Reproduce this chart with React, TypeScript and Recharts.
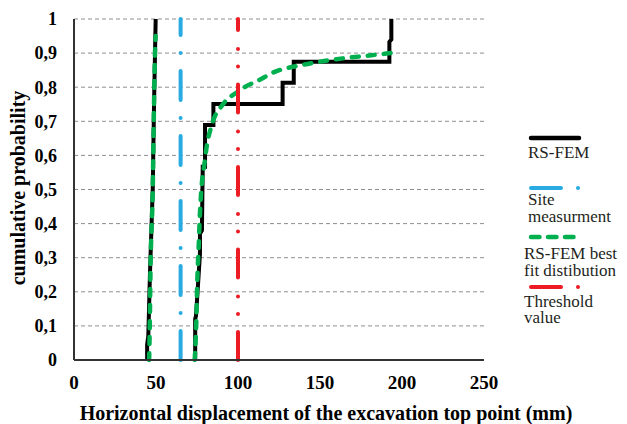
import React from "react";
import { LineChart, Line, XAxis, YAxis, CartesianGrid } from "recharts";

// RS-FEM results (empirical CDF), two groups
const rsFemA = [
  { x: 44.6, y: 0 }, { x: 44.6, y: 0.045 }, { x: 45.3, y: 0.07 }, { x: 46.3, y: 0.25 },
  { x: 48.0, y: 0.5 }, { x: 48.8, y: 0.75 }, { x: 49.8, y: 1 },
];
const rsFemB = [
  { x: 73.9, y: 0 }, { x: 73.9, y: 0.12 }, { x: 74.4, y: 0.13 }, { x: 76.8, y: 0.31 },
  { x: 76.8, y: 0.37 }, { x: 78.0, y: 0.38 }, { x: 78.5, y: 0.567 }, { x: 79.9, y: 0.567 },
  { x: 79.9, y: 0.689 }, { x: 85, y: 0.689 }, { x: 85, y: 0.751 }, { x: 127.2, y: 0.751 },
  { x: 127.2, y: 0.813 }, { x: 134, y: 0.813 }, { x: 134, y: 0.875 }, { x: 192.3, y: 0.875 },
  { x: 192.3, y: 0.933 }, { x: 193.5, y: 0.94 }, { x: 193.5, y: 1 },
];
// RS-FEM best fit distributions
const fitA = [
  { x: 45.8, y: 0 }, { x: 46.2, y: 0.1 }, { x: 46.6, y: 0.25 }, { x: 48.0, y: 0.5 },
  { x: 48.8, y: 0.75 }, { x: 49.4, y: 0.9 }, { x: 49.8, y: 0.95 },
];
const fitB = [
  { x: 73.6, y: 0 }, { x: 74.5, y: 0.1 }, { x: 75.2, y: 0.235 }, { x: 76.0, y: 0.33 },
  { x: 76.8, y: 0.43 }, { x: 78.0, y: 0.52 }, { x: 79.3, y: 0.567 }, { x: 80.9, y: 0.626 },
  { x: 84, y: 0.689 }, { x: 91, y: 0.751 }, { x: 100, y: 0.787 }, { x: 104, y: 0.8 },
  { x: 113, y: 0.821 }, { x: 121, y: 0.842 }, { x: 140, y: 0.866 }, { x: 160, y: 0.882 },
  { x: 180, y: 0.893 }, { x: 193, y: 0.9 },
];
// Vertical reference series
const siteMeasurement = [{ x: 65, y: 0 }, { x: 65, y: 1 }];
const thresholdValue = [{ x: 100, y: 0 }, { x: 100, y: 1 }];

const xTicks = [0, 50, 100, 150, 200, 250];
const yTicks = [0, 0.1, 0.2, 0.3, 0.4, 0.5, 0.6, 0.7, 0.8, 0.9, 1];
const yTickLabels = ["0", "0,1", "0,2", "0,3", "0,4", "0,5", "0,6", "0,7", "0,8", "0,9", "1"];

const legendLabels = {
  rsfem: ["RS-FEM"],
  site: ["Site", "measurment"],
  fit: ["RS-FEM best", "fit distibution"],
  threshold: ["Threshold", "value"],
};

const xTitle = "Horizontal displacement of the excavation top point (mm)";
const yTitle = "cumulative probability";

const SERIF = "Liberation Serif";
const BLACK = "#000000";
const BLUE = "#29ABE2";
const GREEN = "#00B04F";
const RED = "#ED1C24";

const XTick = (props: any) => {
  const { x, y, payload } = props;
  return (
    <text x={x} y={y} dy="0.71em" textAnchor="middle" fontFamily={SERIF} fontWeight="bold" fontSize={19} fill="#000" style={{ fontFamily: SERIF }}>
      {String(payload.value)}
    </text>
  );
};

const YTick = (props: any) => {
  const { x, y, payload, index } = props;
  const i = yTicks.indexOf(payload.value);
  return (
    <text x={x} y={y} dy="0.355em" textAnchor="end" fontFamily={SERIF} fontWeight="bold" fontSize={18} fill="#000" style={{ fontFamily: SERIF }}>
      {yTickLabels[i >= 0 ? i : index]}
    </text>
  );
};

export default function App() {
  const legText = { fontFamily: SERIF, fontSize: 17, fill: "#231f20", style: { fontFamily: SERIF } };
  return (
    <div style={{ position: "fixed", left: 0, top: 0, width: 627, height: 424, background: "#fff", fontFamily: SERIF }}>
      <LineChart width={627} height={424} margin={{ top: 19, right: 143, bottom: 0, left: 0 }}>
        <CartesianGrid vertical={false} stroke="#8f8f8f" strokeDasharray="4 3" strokeWidth={1} />
        <XAxis
          type="number"
          dataKey="x"
          domain={[0, 250]}
          ticks={xTicks}
          height={64}
          tickSize={0}
          tickMargin={16}
          tick={<XTick />}
          axisLine={{ stroke: "#333", strokeWidth: 2 }}
          allowDuplicatedCategory={false}
        />
        <YAxis
          type="number"
          dataKey="y"
          domain={[0, 1]}
          ticks={yTicks}
          width={74}
          tickSize={0}
          tickMargin={17}
          tick={<YTick />}
          axisLine={{ stroke: "#333", strokeWidth: 2 }}
        />
        <Line data={rsFemA} dataKey="y" type="linear" stroke={BLACK} strokeWidth={4} dot={false} activeDot={false} isAnimationActive={false} />
        <Line data={rsFemB} dataKey="y" type="linear" stroke={BLACK} strokeWidth={4} dot={false} activeDot={false} isAnimationActive={false} />
        <Line data={siteMeasurement} dataKey="y" type="linear" stroke={BLUE} strokeWidth={4} strokeLinecap="round" strokeDasharray="29 18 0 18" dot={false} activeDot={false} isAnimationActive={false} />
        <Line data={fitA} dataKey="y" type="monotone" stroke={GREEN} strokeWidth={4.5} strokeLinecap="round" strokeDasharray="7 9" dot={false} activeDot={false} isAnimationActive={false} />
        <Line data={fitB} dataKey="y" type="monotone" stroke={GREEN} strokeWidth={4.5} strokeLinecap="round" strokeDasharray="7 9" dot={false} activeDot={false} isAnimationActive={false} />
        <Line data={thresholdValue} dataKey="y" type="linear" stroke={RED} strokeWidth={4} strokeLinecap="round" strokeDasharray="28 18 0 17.5 0 19" dot={false} activeDot={false} isAnimationActive={false} />
      </LineChart>
      <svg width={627} height={424} style={{ position: "absolute", left: 0, top: 0, pointerEvents: "none", fontFamily: SERIF }}>
        <text x={326} y={420} textAnchor="middle" fontFamily={SERIF} fontWeight="bold" fontSize={20} fill="#000">{xTitle}</text>
        <text x={25} y={188} textAnchor="middle" fontFamily={SERIF} fontWeight="bold" fontSize={20} fill="#000" transform="rotate(-90, 25, 188)">{yTitle}</text>

        <line x1={531} x2={579} y1={138} y2={138} stroke={BLACK} strokeWidth={4.5} strokeLinecap="round" />
        <text x={528} y={158} {...legText}>{legendLabels.rsfem[0]}</text>

        <line x1={531} x2={561} y1={188} y2={188} stroke={BLUE} strokeWidth={4} strokeLinecap="round" />
        <circle cx={578} cy={188} r={2} fill={BLUE} />
        <text x={528} y={205} {...legText}>{legendLabels.site[0]}</text>
        <text x={528} y={222} {...legText}>{legendLabels.site[1]}</text>

        <line x1={531} x2={574} y1={237} y2={237} stroke={GREEN} strokeWidth={4.5} strokeLinecap="round" strokeDasharray="8.5 8.5" />
        <text x={524} y={259} {...legText}>{legendLabels.fit[0]}</text>
        <text x={524} y={276} {...legText}>{legendLabels.fit[1]}</text>

        <line x1={531} x2={561} y1={287} y2={287} stroke={RED} strokeWidth={4} strokeLinecap="round" />
        <circle cx={578} cy={287} r={2} fill={RED} />
        <text x={524} y={307} {...legText}>{legendLabels.threshold[0]}</text>
        <text x={524} y={323} {...legText}>{legendLabels.threshold[1]}</text>
      </svg>
    </div>
  );
}
